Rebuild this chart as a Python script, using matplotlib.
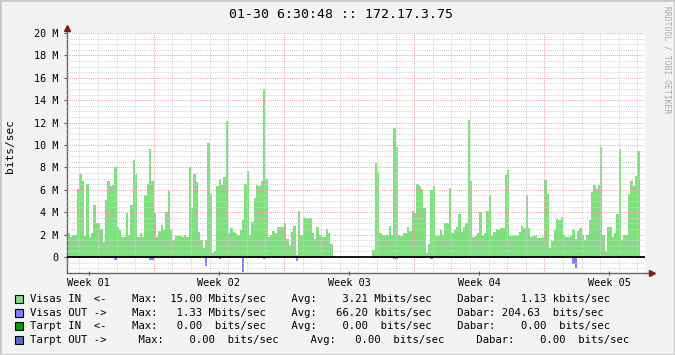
import numpy as np
import matplotlib.pyplot as plt
from matplotlib.patches import Rectangle

# Chart text
title = "01-30 6:30:48 :: 172.17.3.75"
y_label = "bits/sec"
credit = "RRDTOOL / TOBI OETIKER"

# Y axis (Mbit/s)
y_ticks = [0, 2, 4, 6, 8, 10, 12, 14, 16, 18, 20]
y_ticklabels = ["0", "2 M", "4 M", "6 M", "8 M", "10 M", "12 M", "14 M", "16 M", "18 M", "20 M"]

# X axis (days, 0 = first day line in view)
week_labels = ["Week 01", "Week 02", "Week 03", "Week 04", "Week 05"]
week_centers = [0.5, 7.5, 14.5, 21.5, 28.5]
week_bounds = [4, 11, 18, 25]
day_lines = list(range(0, 31))

# 3-hour averages, Mbit/s, first sample starts at day -0.625
sample_start = -0.625
sample_step = 1 / 8

visas_in = [
    2.1, 1.8, 2.0, 2.0, 6.1, 7.4, 6.8, 1.9,
    6.5, 1.8, 2.1, 4.6, 3.0, 3.0, 2.5, 1.3,
    5.1, 6.8, 6.3, 6.4, 8.0, 2.7, 2.4, 1.8,
    1.8, 3.9, 2.0, 4.6, 8.7, 7.4, 1.8, 2.1,
    1.8, 5.5, 6.5, 9.6, 6.8, 3.9, 1.8, 2.3,
    2.9, 2.4, 4.0, 5.9, 2.4, 1.5, 1.9, 1.9,
    1.9, 1.8, 2.0, 1.8, 8.0, 4.4, 7.4, 6.7,
    2.2, 1.5, 0.8, 1.5, 10.2, 5.6, 0.4, 0.5,
    6.3, 7.0, 6.4, 7.1, 12.1, 2.1, 2.6, 2.2,
    2.1, 2.0, 2.4, 3.3, 6.5, 7.7, 2.0, 3.1,
    5.3, 6.4, 6.3, 6.8, 15.0, 7.0, 1.8, 2.0,
    2.3, 2.1, 2.7, 2.7, 2.7, 3.0, 1.6, 1.1,
    2.2, 2.8, 0.2, 4.1, 2.0, 3.6, 3.5, 3.5,
    3.5, 2.1, 1.6, 2.7, 2.0, 1.8, 1.8, 2.5,
    2.1, 1.2, 0.0, 0.0, 0.0, 0.0, 0.0, 0.0,
    0.0, 0.0, 0.0, 0.0, 0.0, 0.0, 0.0, 0.0,
    0.0, 0.0, 0.0, 0.6, 8.4, 7.6, 2.1, 2.0,
    2.0, 2.0, 2.8, 2.0, 11.5, 9.8, 2.0, 1.9,
    2.1, 2.1, 2.7, 2.3, 4.1, 3.9, 6.5, 6.3,
    6.1, 4.4, 0.4, 1.2, 6.0, 6.3, 1.9, 1.9,
    2.4, 2.0, 3.0, 3.0, 6.2, 2.1, 2.4, 2.7,
    3.8, 2.2, 2.7, 3.0, 12.2, 6.8, 1.8, 1.9,
    2.1, 4.0, 1.9, 2.1, 4.1, 5.5, 1.9, 2.2,
    2.5, 2.4, 2.6, 2.6, 7.3, 7.8, 1.9, 1.9,
    2.0, 1.9, 2.2, 2.8, 2.6, 5.5, 2.6, 1.8,
    1.9, 1.9, 1.7, 1.7, 1.8, 6.9, 5.6, 0.8,
    1.4, 2.4, 3.4, 3.3, 3.6, 2.0, 1.8, 1.8,
    1.9, 2.4, 1.6, 2.3, 2.6, 2.0, 1.5, 2.0,
    3.3, 5.8, 6.4, 6.1, 6.4, 9.8, 2.0, 0.5,
    2.7, 2.7, 1.8, 2.1, 3.8, 9.6, 1.5, 2.0,
    2.0, 5.6, 6.8, 6.3, 7.2, 9.5, 0.1,
]

visas_out = [
    0, 0, 0, 0, 0.1, 0.1, 0.1, 0,
    0.1, 0, 0, 0.1, 0.1, 0, 0, 0,
    0.1, 0.1, 0.1, 0.1, 0.25, 0, 0, 0,
    0, 0.1, 0, 0.1, 0.1, 0, 0, 0,
    0, 0.1, 0.1, 0.25, 0.25, 0, 0, 0,
    0.1, 0, 0.1, 0.1, 0.1, 0, 0, 0,
    0, 0, 0.1, 0, 0.1, 0, 0.1, 0.1,
    0.1, 0, 0.1, 0.8, 0, 0, 0, 0,
    0.1, 0.2, 0.1, 0.1, 0.1, 0.1, 0, 0,
    0, 0, 0, 1.33, 0, 0, 0, 0,
    0.1, 0.1, 0.1, 0.1, 0.2, 0.1, 0, 0,
    0, 0.1, 0.1, 0.1, 0.1, 0.1, 0, 0,
    0.1, 0.1, 0.4, 0.1, 0.1, 0, 0.1, 0.1,
    0.1, 0, 0, 0.1, 0.1, 0, 0, 0,
    0, 0, 0, 0, 0, 0, 0, 0,
    0, 0, 0, 0, 0, 0, 0, 0,
    0, 0, 0, 0.1, 0.1, 0.1, 0, 0,
    0, 0.1, 0.1, 0.1, 0.2, 0.2, 0, 0,
    0, 0.1, 0.1, 0.1, 0.1, 0.1, 0.1, 0.1,
    0.1, 0.1, 0, 0, 0.2, 0, 0, 0,
    0, 0.1, 0.1, 0.1, 0.1, 0.1, 0.1, 0.1,
    0.1, 0.1, 0.1, 0.1, 0.1, 0.1, 0, 0,
    0.1, 0.1, 0, 0.1, 0.1, 0.1, 0, 0,
    0.1, 0.1, 0, 0.1, 0.1, 0.1, 0, 0,
    0, 0, 0.1, 0.1, 0.1, 0, 0, 0,
    0, 0, 0, 0, 0, 0.1, 0.1, 0,
    0, 0.1, 0.1, 0.1, 0.1, 0, 0, 0,
    0, 0.65, 1.0, 0, 0, 0, 0, 0,
    0.1, 0.1, 0.1, 0.1, 0.1, 0.1, 0, 0,
    0.1, 0.1, 0, 0, 0.1, 0.1, 0, 0,
    0, 0.1, 0.1, 0.1, 0.1, 0.1, 0.1,
]

# Legend rows (monospaced, as rrdtool prints them)
legend_colors = ["#80e080", "#8080ff", "#00a000", "#5070c8"]
legend_rows = [
    "Visas IN  <-    Max:  15.00 Mbits/sec    Avg:    3.21 Mbits/sec    Dabar:    1.13 kbits/sec",
    "Visas OUT ->    Max:   1.33 Mbits/sec    Avg:   66.20 kbits/sec    Dabar: 204.63  bits/sec",
    "Tarpt IN  <-    Max:   0.00  bits/sec    Avg:    0.00  bits/sec    Dabar:    0.00  bits/sec",
    "Tarpt OUT ->     Max:    0.00  bits/sec     Avg:   0.00  bits/sec     Dabar:    0.00  bits/sec",
]

W, H = 675, 355
mono = "DejaVu Sans Mono"
fig = plt.figure(figsize=(W / 100, H / 100), dpi=100, facecolor="#f3f3f3")
fig.patches.append(Rectangle((0, 0), 1, 1, transform=fig.transFigure,
                             fill=False, edgecolor="#c8c8c8", linewidth=2))

# plot area in pixels: x 67..645, y 33..273
ax = fig.add_axes([67 / W, 1 - 273 / H, 578 / W, 240 / H])
ax.set_facecolor("white")
ax.set_xlim(-0.661, 30.41)
ax.set_ylim(-1.43, 20.0)

edges = sample_start + np.arange(len(visas_in) + 1) * sample_step
ax.stairs(visas_in, edges, baseline=0, fill=True, color=legend_colors[0], zorder=2)
ax.stairs(-np.array(visas_out), edges, baseline=0, fill=True, color=legend_colors[1], zorder=2)

# grid (rrdtool draws it on top of the data)
dots = (0, (1, 1.2))
for v in np.arange(-1.0, 20.01, 0.5):
    if v % 2 != 0:
        ax.axhline(v, color="#cfcfcf", lw=0.7, ls=dots, zorder=3)
for v in y_ticks[1:]:
    ax.axhline(v, color="#e6a0a0", lw=0.7, ls=dots, zorder=3)
for d in day_lines:
    if d not in week_bounds:
        ax.axvline(d, color="#cfcfcf", lw=0.7, ls=dots, zorder=3)
for d in week_bounds:
    ax.axvline(d, color="#e6a0a0", lw=0.7, ls=dots, zorder=3)
ax.axhline(0, color="black", lw=1.3, zorder=4)

# axes lines with arrows
for s in ["top", "right"]:
    ax.spines[s].set_visible(False)
for s in ["left", "bottom"]:
    ax.spines[s].set_color("#666666")
    ax.spines[s].set_linewidth(1.0)
ax.plot([0, 0], [1, 1.02], transform=ax.transAxes, color="#666666", lw=1.0, clip_on=False)
ax.plot([1, 1.009], [0, 0], transform=ax.transAxes, color="#666666", lw=1.0, clip_on=False)
ax.plot(0, 1.02, transform=ax.transAxes, marker="^", ms=4, color="#8b1a1a", clip_on=False, zorder=5)
ax.plot(1.012, 0, transform=ax.transAxes, marker=">", ms=4, color="#8b1a1a", clip_on=False, zorder=5)

ax.set_yticks(y_ticks)
ax.set_yticklabels(y_ticklabels, fontfamily=mono, fontsize=7.3)
ax.set_xticks(week_centers)
ax.set_xticklabels(week_labels, fontfamily=mono, fontsize=7.3)
ax.tick_params(axis="y", length=2, width=0.8, pad=4, color="#555555")
ax.tick_params(axis="x", length=3, width=0.8, pad=2, color="#555555", direction="inout")

fig.text(341 / W, 1 - 15 / H, title, ha="center", va="center", fontfamily=mono, fontsize=9.5)
fig.text(10 / W, 1 - 146 / H, y_label, ha="center", va="center", rotation=90,
         fontfamily=mono, fontsize=8)
fig.text(667 / W, 1 - 60 / H, credit, ha="center", va="center", rotation=270,
         fontfamily=mono, fontsize=5.8, color="#a8a8a8")

row_y = [299, 313, 326, 340]
for color, text, y in zip(legend_colors, legend_rows, row_y):
    fig.patches.append(Rectangle((15 / W, 1 - (y + 4) / H), 8 / W, 8 / H, transform=fig.transFigure,
                                 facecolor=color, edgecolor="black", linewidth=0.8))
    fig.text(30 / W, 1 - y / H, text, ha="left", va="center", fontfamily=mono, fontsize=7.65)

fig.savefig("out.png", dpi=100, facecolor=fig.get_facecolor())
